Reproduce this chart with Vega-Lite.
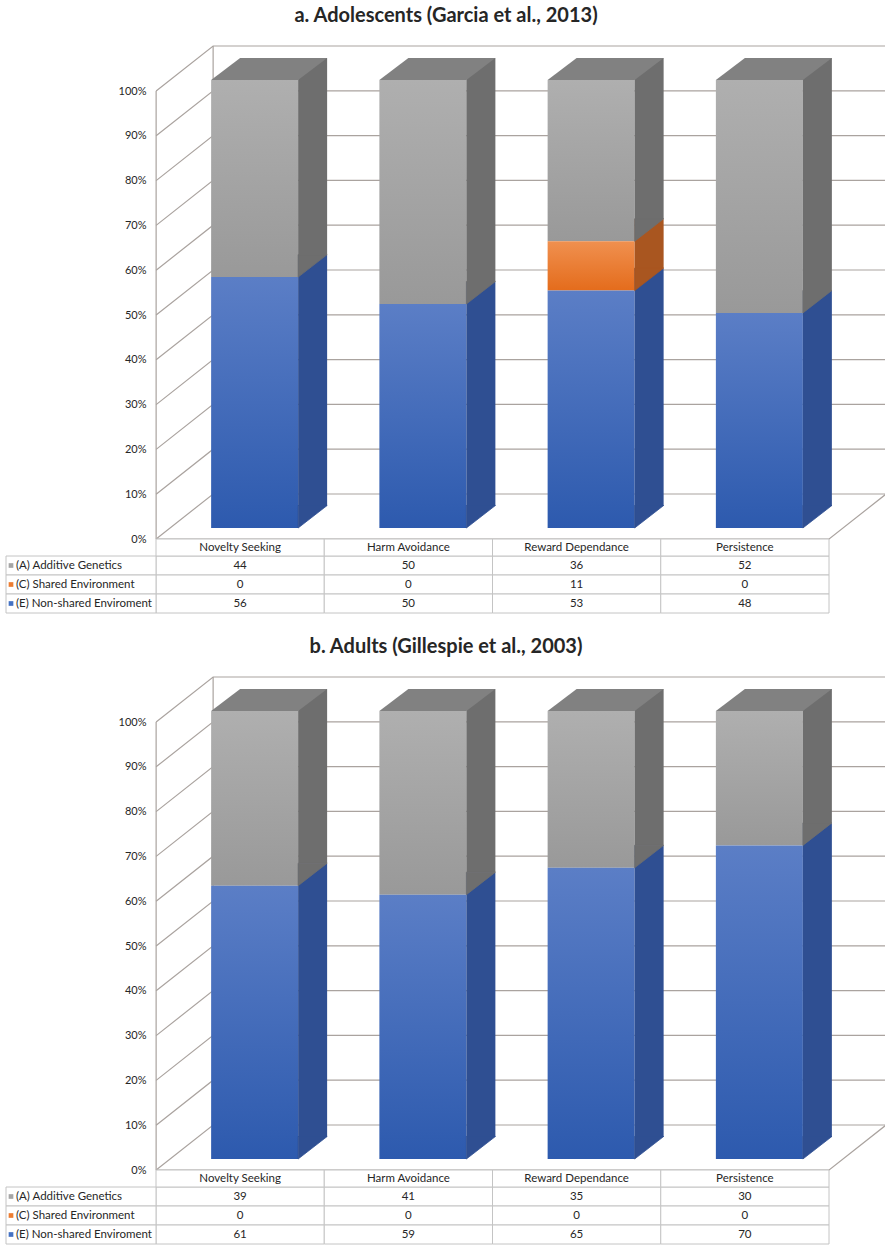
{
  "$schema": "https://vega.github.io/schema/vega-lite/v6.json",
  "background": "white",
  "padding": {"left": 5, "top": 5, "right": 0, "bottom": 0},
  "spacing": 22,
  "config": {"view": {"stroke": null}, "font": "Lato", "title": {"font": "Lato", "fontSize": 20, "fontWeight": "bold", "color": "#262626", "offset": 18, "anchor": "middle"}},
  "datasets": {
    "a": [
      {"category": "Novelty Seeking", "series": "(A) Additive Genetics", "value": 44},
      {"category": "Novelty Seeking", "series": "(C) Shared Environment", "value": 0},
      {"category": "Novelty Seeking", "series": "(E) Non-shared Enviroment", "value": 56},
      {"category": "Harm Avoidance", "series": "(A) Additive Genetics", "value": 50},
      {"category": "Harm Avoidance", "series": "(C) Shared Environment", "value": 0},
      {"category": "Harm Avoidance", "series": "(E) Non-shared Enviroment", "value": 50},
      {"category": "Reward Dependance", "series": "(A) Additive Genetics", "value": 36},
      {"category": "Reward Dependance", "series": "(C) Shared Environment", "value": 11},
      {"category": "Reward Dependance", "series": "(E) Non-shared Enviroment", "value": 53},
      {"category": "Persistence", "series": "(A) Additive Genetics", "value": 52},
      {"category": "Persistence", "series": "(C) Shared Environment", "value": 0},
      {"category": "Persistence", "series": "(E) Non-shared Enviroment", "value": 48}
    ],
    "b": [
      {"category": "Novelty Seeking", "series": "(A) Additive Genetics", "value": 39},
      {"category": "Novelty Seeking", "series": "(C) Shared Environment", "value": 0},
      {"category": "Novelty Seeking", "series": "(E) Non-shared Enviroment", "value": 61},
      {"category": "Harm Avoidance", "series": "(A) Additive Genetics", "value": 41},
      {"category": "Harm Avoidance", "series": "(C) Shared Environment", "value": 0},
      {"category": "Harm Avoidance", "series": "(E) Non-shared Enviroment", "value": 59},
      {"category": "Reward Dependance", "series": "(A) Additive Genetics", "value": 35},
      {"category": "Reward Dependance", "series": "(C) Shared Environment", "value": 0},
      {"category": "Reward Dependance", "series": "(E) Non-shared Enviroment", "value": 65},
      {"category": "Persistence", "series": "(A) Additive Genetics", "value": 30},
      {"category": "Persistence", "series": "(C) Shared Environment", "value": 0},
      {"category": "Persistence", "series": "(E) Non-shared Enviroment", "value": 70}
    ],
    "ticks": [{"t": 0}, {"t": 10}, {"t": 20}, {"t": 30}, {"t": 40}, {"t": 50}, {"t": 60}, {"t": 70}, {"t": 80}, {"t": 90}, {"t": 100}]
  },
  "vconcat": [
    {
      "title": "a. Adolescents (Garcia et al., 2013)",
      "width": 880,
      "height": 567,
      "data": {"name": "a"},
      "resolve": {"scale": {"x": "independent", "y": "independent"}},
      "layer": [
        {
          "data": {"name": "ticks"},
          "mark": {"type": "point", "shape": "M -84 0 L -27 -45 L 646 -45", "size": 4, "filled": false, "stroke": "#aaa39f", "strokeWidth": 1.2, "opacity": 1},
          "encoding": {
            "x": {"datum": "Novelty Seeking", "type": "nominal", "scale": {"domain": ["Novelty Seeking", "Harm Avoidance", "Reward Dependance", "Persistence"], "range": [150, 823], "paddingInner": 0, "paddingOuter": 0}, "axis": null},
            "y": {"field": "t", "type": "quantitative", "scale": {"domain": [0, 100], "range": [493, 45], "nice": false}, "axis": {"orient": "left", "offset": -150, "values": [0, 10, 20, 30, 40, 50, 60, 70, 80, 90, 100], "labelExpr": "datum.value + '%'", "domain": false, "ticks": false, "grid": false, "labelPadding": 10, "labelFontSize": 11, "labelColor": "#262626", "labelFont": "Lato", "title": null}}
          }
        },
        {
          "data": {"values": [{"t": 0}]},
          "mark": {"type": "point", "shape": "M -84 0 L -84 -448 M -27 -45 L -27 -493 M -84 0 L 589 0 L 646 -45", "size": 4, "filled": false, "stroke": "#aaa39f", "strokeWidth": 1.2, "opacity": 1},
          "encoding": {
            "x": {"datum": "Novelty Seeking", "type": "nominal", "scale": {"domain": ["Novelty Seeking", "Harm Avoidance", "Reward Dependance", "Persistence"], "range": [150, 823], "paddingInner": 0, "paddingOuter": 0}, "axis": null},
            "y": {"field": "t", "type": "quantitative", "scale": {"domain": [0, 100], "range": [493, 45], "nice": false}, "axis": null}
          }
        },
        {
          "transform": [{"stack": "value", "groupby": ["category"], "sort": [{"field": "series", "order": "descending"}], "as": ["v0", "v1"]}],
          "mark": {"type": "bar", "width": 87, "xOffset": 14.5, "opacity": 1, "strokeWidth": 0},
          "encoding": {
            "x": {"field": "category", "type": "nominal", "scale": {"domain": ["Novelty Seeking", "Harm Avoidance", "Reward Dependance", "Persistence"], "range": [150, 823], "paddingInner": 0, "paddingOuter": 0}, "axis": null},
            "y": {"field": "v1", "type": "quantitative", "scale": {"domain": [0, 100], "range": [482, 34], "nice": false}, "axis": null},
            "y2": {"field": "v0"},
            "fill": {"condition": [
              {"test": "datum.series === '(A) Additive Genetics'", "value": {"x1": 0, "y1": 0, "x2": 0, "y2": 1, "gradient": "linear", "stops": [{"offset": 0, "color": "#afafaf"}, {"offset": 1, "color": "#999999"}]}},
              {"test": "datum.series === '(C) Shared Environment'", "value": {"x1": 0, "y1": 0, "x2": 0, "y2": 1, "gradient": "linear", "stops": [{"offset": 0, "color": "#f0904f"}, {"offset": 1, "color": "#e46c1c"}]}}
            ], "value": {"x1": 0, "y1": 0, "x2": 0, "y2": 1, "gradient": "linear", "stops": [{"offset": 0, "color": "#5b7ec6"}, {"offset": 1, "color": "#2d5aae"}]}}
          }
        },
        {
          "transform": [{"stack": "value", "groupby": ["category"], "sort": [{"field": "series", "order": "descending"}], "as": ["v0", "v1"]}],
          "mark": {"type": "bar", "width": 29, "xOffset": 72.5, "opacity": 1, "strokeWidth": 0},
          "encoding": {
            "x": {"field": "category", "type": "nominal", "scale": {"domain": ["Novelty Seeking", "Harm Avoidance", "Reward Dependance", "Persistence"], "range": [150, 823], "paddingInner": 0, "paddingOuter": 0}, "axis": null},
            "y": {"field": "v1", "type": "quantitative", "scale": {"domain": [0, 100], "range": [460, 12], "nice": false}, "axis": null},
            "y2": {"field": "v0"},
            "fill": {"condition": [
              {"test": "datum.series === '(A) Additive Genetics'", "value": "#6e6e6e"},
              {"test": "datum.series === '(C) Shared Environment'", "value": "#a95620"}
            ], "value": "#2f4f92"}
          }
        },
        {
          "transform": [{"stack": "value", "groupby": ["category"], "sort": [{"field": "series", "order": "descending"}], "as": ["v0", "v1"]}, {"filter": "datum.value > 0"}],
          "mark": {"type": "point", "shape": "M 58 -22.5 L 58 0 L 87 -22.5 Z", "size": 4, "filled": true, "opacity": 1, "strokeWidth": 0.8, "strokeJoin": "bevel"},
          "encoding": {
            "x": {"field": "category", "type": "nominal", "scale": {"domain": ["Novelty Seeking", "Harm Avoidance", "Reward Dependance", "Persistence"], "range": [150, 823], "paddingInner": 0, "paddingOuter": 0}, "axis": null},
            "y": {"field": "v0", "type": "quantitative", "scale": {"domain": [0, 100], "range": [482, 34], "nice": false}, "axis": null},
            "fill": {"condition": [
              {"test": "datum.series === '(A) Additive Genetics'", "value": "#6e6e6e"},
              {"test": "datum.series === '(C) Shared Environment'", "value": "#a95620"}
            ], "value": "#2f4f92"},
            "stroke": {"condition": [
              {"test": "datum.series === '(A) Additive Genetics'", "value": "#6e6e6e"},
              {"test": "datum.series === '(C) Shared Environment'", "value": "#a95620"}
            ], "value": "#2f4f92"}
          }
        },
        {
          "transform": [{"filter": "datum.series === '(A) Additive Genetics'"}],
          "mark": {"type": "point", "shape": "M -29 0 L 58 0 L 87 -22 L 0 -22 Z", "size": 4, "filled": true, "opacity": 1, "strokeWidth": 0, "fill": "#818181"},
          "encoding": {
            "x": {"field": "category", "type": "nominal", "scale": {"domain": ["Novelty Seeking", "Harm Avoidance", "Reward Dependance", "Persistence"], "range": [150, 823], "paddingInner": 0, "paddingOuter": 0}, "axis": null},
            "y": {"datum": 100, "type": "quantitative", "scale": {"domain": [0, 100], "range": [482, 34], "nice": false}, "axis": null}
          }
        },
        {
          "mark": {"type": "rect", "fill": "white", "stroke": "#c4c4c4", "strokeWidth": 1, "opacity": 1},
          "encoding": {
            "x": {"field": "category", "type": "nominal", "scale": {"domain": ["Novelty Seeking", "Harm Avoidance", "Reward Dependance", "Persistence"], "range": [150, 823], "paddingInner": 0, "paddingOuter": 0}, "axis": null},
            "y": {"field": "series", "type": "nominal", "scale": {"domain": ["(A) Additive Genetics", "(C) Shared Environment", "(E) Non-shared Enviroment"], "range": [510, 567], "paddingInner": 0, "paddingOuter": 0}, "axis": null}
          }
        },
        {
          "transform": [{"filter": "datum.series === '(A) Additive Genetics'"}],
          "mark": {"type": "rect", "fill": "white", "stroke": "#c4c4c4", "strokeWidth": 1, "opacity": 1},
          "encoding": {
            "x": {"field": "category", "type": "nominal", "scale": {"domain": ["Novelty Seeking", "Harm Avoidance", "Reward Dependance", "Persistence"], "range": [150, 823], "paddingInner": 0, "paddingOuter": 0}, "axis": null},
            "y": {"datum": "hdr", "type": "nominal", "scale": {"domain": ["hdr"], "range": [493, 510], "paddingInner": 0, "paddingOuter": 0}, "axis": null}
          }
        },
        {
          "transform": [{"filter": "datum.category === 'Novelty Seeking'"}],
          "mark": {"type": "rect", "fill": "white", "stroke": "#c4c4c4", "strokeWidth": 1, "opacity": 1},
          "encoding": {
            "x": {"datum": "lbl", "type": "nominal", "scale": {"domain": ["lbl"], "range": [0, 150], "paddingInner": 0, "paddingOuter": 0}, "axis": null},
            "y": {"field": "series", "type": "nominal", "scale": {"domain": ["(A) Additive Genetics", "(C) Shared Environment", "(E) Non-shared Enviroment"], "range": [510, 567], "paddingInner": 0, "paddingOuter": 0}, "axis": null}
          }
        },
        {
          "mark": {"type": "text", "fontSize": 11.5, "color": "#262626", "baseline": "middle", "align": "center", "font": "Lato"},
          "encoding": {
            "x": {"field": "category", "type": "nominal", "scale": {"domain": ["Novelty Seeking", "Harm Avoidance", "Reward Dependance", "Persistence"], "range": [150, 823], "paddingInner": 0, "paddingOuter": 0}, "axis": null},
            "y": {"field": "series", "type": "nominal", "scale": {"domain": ["(A) Additive Genetics", "(C) Shared Environment", "(E) Non-shared Enviroment"], "range": [510, 567], "paddingInner": 0, "paddingOuter": 0}, "axis": null},
            "text": {"field": "value", "type": "quantitative"}
          }
        },
        {
          "transform": [{"filter": "datum.series === '(A) Additive Genetics'"}],
          "mark": {"type": "text", "fontSize": 11.5, "color": "#262626", "baseline": "middle", "align": "center", "font": "Lato"},
          "encoding": {
            "x": {"field": "category", "type": "nominal", "scale": {"domain": ["Novelty Seeking", "Harm Avoidance", "Reward Dependance", "Persistence"], "range": [150, 823], "paddingInner": 0, "paddingOuter": 0}, "axis": null},
            "y": {"datum": "hdr", "type": "nominal", "scale": {"domain": ["hdr"], "range": [493, 510], "paddingInner": 0, "paddingOuter": 0}, "axis": null},
            "text": {"field": "category", "type": "nominal"}
          }
        },
        {
          "transform": [{"filter": "datum.category === 'Novelty Seeking'"}],
          "mark": {"type": "text", "fontSize": 11.5, "color": "#262626", "baseline": "middle", "align": "left", "dx": -65, "font": "Lato"},
          "encoding": {
            "x": {"datum": "lbl", "type": "nominal", "scale": {"domain": ["lbl"], "range": [0, 150], "paddingInner": 0, "paddingOuter": 0}, "axis": null},
            "y": {"field": "series", "type": "nominal", "scale": {"domain": ["(A) Additive Genetics", "(C) Shared Environment", "(E) Non-shared Enviroment"], "range": [510, 567], "paddingInner": 0, "paddingOuter": 0}, "axis": null},
            "text": {"field": "series", "type": "nominal"}
          }
        },
        {
          "transform": [{"filter": "datum.category === 'Novelty Seeking'"}],
          "mark": {"type": "point", "shape": "square", "size": 22, "filled": true, "opacity": 1, "xOffset": -70, "strokeWidth": 0},
          "encoding": {
            "x": {"datum": "lbl", "type": "nominal", "scale": {"domain": ["lbl"], "range": [0, 150], "paddingInner": 0, "paddingOuter": 0}, "axis": null},
            "y": {"field": "series", "type": "nominal", "scale": {"domain": ["(A) Additive Genetics", "(C) Shared Environment", "(E) Non-shared Enviroment"], "range": [510, 567], "paddingInner": 0, "paddingOuter": 0}, "axis": null},
            "fill": {"condition": [
              {"test": "datum.series === '(A) Additive Genetics'", "value": "#a5a5a5"},
              {"test": "datum.series === '(C) Shared Environment'", "value": "#ed7d31"}
            ], "value": "#4472c4"}
          }
        }
      ]
    },
    {
      "title": "b. Adults (Gillespie et al., 2003)",
      "width": 880,
      "height": 567,
      "data": {"name": "b"},
      "resolve": {"scale": {"x": "independent", "y": "independent"}},
      "layer": [
        {
          "data": {"name": "ticks"},
          "mark": {"type": "point", "shape": "M -84 0 L -27 -45 L 646 -45", "size": 4, "filled": false, "stroke": "#aaa39f", "strokeWidth": 1.2, "opacity": 1},
          "encoding": {
            "x": {"datum": "Novelty Seeking", "type": "nominal", "scale": {"domain": ["Novelty Seeking", "Harm Avoidance", "Reward Dependance", "Persistence"], "range": [150, 823], "paddingInner": 0, "paddingOuter": 0}, "axis": null},
            "y": {"field": "t", "type": "quantitative", "scale": {"domain": [0, 100], "range": [493, 45], "nice": false}, "axis": {"orient": "left", "offset": -150, "values": [0, 10, 20, 30, 40, 50, 60, 70, 80, 90, 100], "labelExpr": "datum.value + '%'", "domain": false, "ticks": false, "grid": false, "labelPadding": 10, "labelFontSize": 11, "labelColor": "#262626", "labelFont": "Lato", "title": null}}
          }
        },
        {
          "data": {"values": [{"t": 0}]},
          "mark": {"type": "point", "shape": "M -84 0 L -84 -448 M -27 -45 L -27 -493 M -84 0 L 589 0 L 646 -45", "size": 4, "filled": false, "stroke": "#aaa39f", "strokeWidth": 1.2, "opacity": 1},
          "encoding": {
            "x": {"datum": "Novelty Seeking", "type": "nominal", "scale": {"domain": ["Novelty Seeking", "Harm Avoidance", "Reward Dependance", "Persistence"], "range": [150, 823], "paddingInner": 0, "paddingOuter": 0}, "axis": null},
            "y": {"field": "t", "type": "quantitative", "scale": {"domain": [0, 100], "range": [493, 45], "nice": false}, "axis": null}
          }
        },
        {
          "transform": [{"stack": "value", "groupby": ["category"], "sort": [{"field": "series", "order": "descending"}], "as": ["v0", "v1"]}],
          "mark": {"type": "bar", "width": 87, "xOffset": 14.5, "opacity": 1, "strokeWidth": 0},
          "encoding": {
            "x": {"field": "category", "type": "nominal", "scale": {"domain": ["Novelty Seeking", "Harm Avoidance", "Reward Dependance", "Persistence"], "range": [150, 823], "paddingInner": 0, "paddingOuter": 0}, "axis": null},
            "y": {"field": "v1", "type": "quantitative", "scale": {"domain": [0, 100], "range": [482, 34], "nice": false}, "axis": null},
            "y2": {"field": "v0"},
            "fill": {"condition": [
              {"test": "datum.series === '(A) Additive Genetics'", "value": {"x1": 0, "y1": 0, "x2": 0, "y2": 1, "gradient": "linear", "stops": [{"offset": 0, "color": "#afafaf"}, {"offset": 1, "color": "#999999"}]}},
              {"test": "datum.series === '(C) Shared Environment'", "value": {"x1": 0, "y1": 0, "x2": 0, "y2": 1, "gradient": "linear", "stops": [{"offset": 0, "color": "#f0904f"}, {"offset": 1, "color": "#e46c1c"}]}}
            ], "value": {"x1": 0, "y1": 0, "x2": 0, "y2": 1, "gradient": "linear", "stops": [{"offset": 0, "color": "#5b7ec6"}, {"offset": 1, "color": "#2d5aae"}]}}
          }
        },
        {
          "transform": [{"stack": "value", "groupby": ["category"], "sort": [{"field": "series", "order": "descending"}], "as": ["v0", "v1"]}],
          "mark": {"type": "bar", "width": 29, "xOffset": 72.5, "opacity": 1, "strokeWidth": 0},
          "encoding": {
            "x": {"field": "category", "type": "nominal", "scale": {"domain": ["Novelty Seeking", "Harm Avoidance", "Reward Dependance", "Persistence"], "range": [150, 823], "paddingInner": 0, "paddingOuter": 0}, "axis": null},
            "y": {"field": "v1", "type": "quantitative", "scale": {"domain": [0, 100], "range": [460, 12], "nice": false}, "axis": null},
            "y2": {"field": "v0"},
            "fill": {"condition": [
              {"test": "datum.series === '(A) Additive Genetics'", "value": "#6e6e6e"},
              {"test": "datum.series === '(C) Shared Environment'", "value": "#a95620"}
            ], "value": "#2f4f92"}
          }
        },
        {
          "transform": [{"stack": "value", "groupby": ["category"], "sort": [{"field": "series", "order": "descending"}], "as": ["v0", "v1"]}, {"filter": "datum.value > 0"}],
          "mark": {"type": "point", "shape": "M 58 -22.5 L 58 0 L 87 -22.5 Z", "size": 4, "filled": true, "opacity": 1, "strokeWidth": 0.8, "strokeJoin": "bevel"},
          "encoding": {
            "x": {"field": "category", "type": "nominal", "scale": {"domain": ["Novelty Seeking", "Harm Avoidance", "Reward Dependance", "Persistence"], "range": [150, 823], "paddingInner": 0, "paddingOuter": 0}, "axis": null},
            "y": {"field": "v0", "type": "quantitative", "scale": {"domain": [0, 100], "range": [482, 34], "nice": false}, "axis": null},
            "fill": {"condition": [
              {"test": "datum.series === '(A) Additive Genetics'", "value": "#6e6e6e"},
              {"test": "datum.series === '(C) Shared Environment'", "value": "#a95620"}
            ], "value": "#2f4f92"},
            "stroke": {"condition": [
              {"test": "datum.series === '(A) Additive Genetics'", "value": "#6e6e6e"},
              {"test": "datum.series === '(C) Shared Environment'", "value": "#a95620"}
            ], "value": "#2f4f92"}
          }
        },
        {
          "transform": [{"filter": "datum.series === '(A) Additive Genetics'"}],
          "mark": {"type": "point", "shape": "M -29 0 L 58 0 L 87 -22 L 0 -22 Z", "size": 4, "filled": true, "opacity": 1, "strokeWidth": 0, "fill": "#818181"},
          "encoding": {
            "x": {"field": "category", "type": "nominal", "scale": {"domain": ["Novelty Seeking", "Harm Avoidance", "Reward Dependance", "Persistence"], "range": [150, 823], "paddingInner": 0, "paddingOuter": 0}, "axis": null},
            "y": {"datum": 100, "type": "quantitative", "scale": {"domain": [0, 100], "range": [482, 34], "nice": false}, "axis": null}
          }
        },
        {
          "mark": {"type": "rect", "fill": "white", "stroke": "#c4c4c4", "strokeWidth": 1, "opacity": 1},
          "encoding": {
            "x": {"field": "category", "type": "nominal", "scale": {"domain": ["Novelty Seeking", "Harm Avoidance", "Reward Dependance", "Persistence"], "range": [150, 823], "paddingInner": 0, "paddingOuter": 0}, "axis": null},
            "y": {"field": "series", "type": "nominal", "scale": {"domain": ["(A) Additive Genetics", "(C) Shared Environment", "(E) Non-shared Enviroment"], "range": [510, 567], "paddingInner": 0, "paddingOuter": 0}, "axis": null}
          }
        },
        {
          "transform": [{"filter": "datum.series === '(A) Additive Genetics'"}],
          "mark": {"type": "rect", "fill": "white", "stroke": "#c4c4c4", "strokeWidth": 1, "opacity": 1},
          "encoding": {
            "x": {"field": "category", "type": "nominal", "scale": {"domain": ["Novelty Seeking", "Harm Avoidance", "Reward Dependance", "Persistence"], "range": [150, 823], "paddingInner": 0, "paddingOuter": 0}, "axis": null},
            "y": {"datum": "hdr", "type": "nominal", "scale": {"domain": ["hdr"], "range": [493, 510], "paddingInner": 0, "paddingOuter": 0}, "axis": null}
          }
        },
        {
          "transform": [{"filter": "datum.category === 'Novelty Seeking'"}],
          "mark": {"type": "rect", "fill": "white", "stroke": "#c4c4c4", "strokeWidth": 1, "opacity": 1},
          "encoding": {
            "x": {"datum": "lbl", "type": "nominal", "scale": {"domain": ["lbl"], "range": [0, 150], "paddingInner": 0, "paddingOuter": 0}, "axis": null},
            "y": {"field": "series", "type": "nominal", "scale": {"domain": ["(A) Additive Genetics", "(C) Shared Environment", "(E) Non-shared Enviroment"], "range": [510, 567], "paddingInner": 0, "paddingOuter": 0}, "axis": null}
          }
        },
        {
          "mark": {"type": "text", "fontSize": 11.5, "color": "#262626", "baseline": "middle", "align": "center", "font": "Lato"},
          "encoding": {
            "x": {"field": "category", "type": "nominal", "scale": {"domain": ["Novelty Seeking", "Harm Avoidance", "Reward Dependance", "Persistence"], "range": [150, 823], "paddingInner": 0, "paddingOuter": 0}, "axis": null},
            "y": {"field": "series", "type": "nominal", "scale": {"domain": ["(A) Additive Genetics", "(C) Shared Environment", "(E) Non-shared Enviroment"], "range": [510, 567], "paddingInner": 0, "paddingOuter": 0}, "axis": null},
            "text": {"field": "value", "type": "quantitative"}
          }
        },
        {
          "transform": [{"filter": "datum.series === '(A) Additive Genetics'"}],
          "mark": {"type": "text", "fontSize": 11.5, "color": "#262626", "baseline": "middle", "align": "center", "font": "Lato"},
          "encoding": {
            "x": {"field": "category", "type": "nominal", "scale": {"domain": ["Novelty Seeking", "Harm Avoidance", "Reward Dependance", "Persistence"], "range": [150, 823], "paddingInner": 0, "paddingOuter": 0}, "axis": null},
            "y": {"datum": "hdr", "type": "nominal", "scale": {"domain": ["hdr"], "range": [493, 510], "paddingInner": 0, "paddingOuter": 0}, "axis": null},
            "text": {"field": "category", "type": "nominal"}
          }
        },
        {
          "transform": [{"filter": "datum.category === 'Novelty Seeking'"}],
          "mark": {"type": "text", "fontSize": 11.5, "color": "#262626", "baseline": "middle", "align": "left", "dx": -65, "font": "Lato"},
          "encoding": {
            "x": {"datum": "lbl", "type": "nominal", "scale": {"domain": ["lbl"], "range": [0, 150], "paddingInner": 0, "paddingOuter": 0}, "axis": null},
            "y": {"field": "series", "type": "nominal", "scale": {"domain": ["(A) Additive Genetics", "(C) Shared Environment", "(E) Non-shared Enviroment"], "range": [510, 567], "paddingInner": 0, "paddingOuter": 0}, "axis": null},
            "text": {"field": "series", "type": "nominal"}
          }
        },
        {
          "transform": [{"filter": "datum.category === 'Novelty Seeking'"}],
          "mark": {"type": "point", "shape": "square", "size": 22, "filled": true, "opacity": 1, "xOffset": -70, "strokeWidth": 0},
          "encoding": {
            "x": {"datum": "lbl", "type": "nominal", "scale": {"domain": ["lbl"], "range": [0, 150], "paddingInner": 0, "paddingOuter": 0}, "axis": null},
            "y": {"field": "series", "type": "nominal", "scale": {"domain": ["(A) Additive Genetics", "(C) Shared Environment", "(E) Non-shared Enviroment"], "range": [510, 567], "paddingInner": 0, "paddingOuter": 0}, "axis": null},
            "fill": {"condition": [
              {"test": "datum.series === '(A) Additive Genetics'", "value": "#a5a5a5"},
              {"test": "datum.series === '(C) Shared Environment'", "value": "#ed7d31"}
            ], "value": "#4472c4"}
          }
        }
      ]
    }
  ]
}
